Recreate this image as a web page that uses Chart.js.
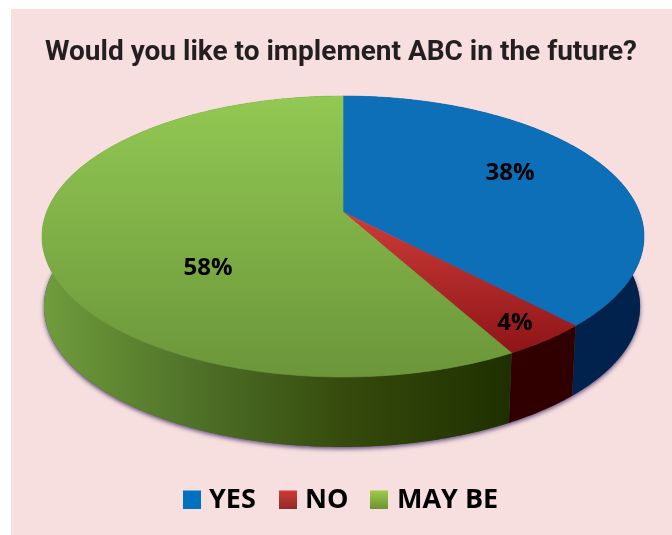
<!DOCTYPE html>
<html>
<head>
<meta charset="utf-8">
<script src="https://cdn.jsdelivr.net/npm/chart.js@4"></script>
<style>
  html, body { margin: 0; padding: 0; background: #fff; }
  #wrap { width: 672px; height: 535px; }
</style>
</head>
<body>
<div id="wrap"><canvas id="myChart" width="672" height="535"></canvas></div>
<script>
const categories = ['YES', 'NO', 'MAY BE'];
const percents = [38, 4, 58];
const chartTitle = 'Would you like to implement ABC in the future?';

// colours per slice: top face [from, to], wall [from, to], legend swatch [from, to]
const topColors = [['#0e6fb9', '#0e6fb9'], ['#cc3d38', '#8f1418'], ['#92c853', '#6b963a']];
const wallColors = [['#00224d', '#00224d'], ['#300000', '#300000'], ['#6f9c3c', '#1f3000']];
const swatchColors = [['#0070c0', '#0070c0'], ['#d03c38', '#8f2a2a'], ['#a0cd4b', '#6e9132']];

// perspective discs: apex position, half axes and foreshortening
const topDisc = { x: 343, y: 212, a: 296.4, b: 136.2, k: 0.1744 };
const baseDisc = { x: 342, y: 282, a: 293.5, b: 136.2, k: 0.1744 };

function project(disc, angle) {
  const u = Math.cos(angle), v = Math.sin(angle);
  const w = 1 - disc.k * v;
  return { x: disc.x + disc.a * u / w, y: disc.y + disc.b * v / w };
}

function rimAngles(start, end) {
  const out = [];
  const n = Math.max(2, Math.ceil((end - start) / 0.01));
  for (let i = 0; i <= n; i++) out.push(start + (end - start) * i / n);
  return out;
}

function vGrad(ctx, pair, y0, y1) {
  const g = ctx.createLinearGradient(0, y0, 0, y1);
  g.addColorStop(0, pair[0]);
  g.addColorStop(1, pair[1]);
  return g;
}

const panelPlugin = {
  id: 'panel',
  beforeDraw(chart) {
    const ctx = chart.ctx;
    ctx.save();
    ctx.fillStyle = '#f6dfde';
    ctx.fillRect(11, 9, chart.width - 11, chart.height - 9);
    ctx.restore();
  }
};

const pie3d = {
  id: 'pie3d',
  beforeDatasetDraw(chart) {
    const ctx = chart.ctx;
    const arcs = chart.getDatasetMeta(0).data;
    ctx.save();

    // soft shadow under the whole wall
    ctx.save();
    ctx.shadowColor = 'rgba(80,55,110,0.85)';
    ctx.shadowBlur = 4;
    ctx.shadowOffsetY = 2;
    ctx.fillStyle = '#555';
    ctx.beginPath();
    rimAngles(-0.3, Math.PI + 0.3).forEach((t, i) => {
      const p = project(baseDisc, t);
      if (i === 0) ctx.moveTo(p.x, p.y); else ctx.lineTo(p.x, p.y);
    });
    ctx.closePath();
    ctx.fill();
    ctx.restore();

    // side wall
    arcs.forEach((arc, i) => {
      const angles = rimAngles(arc.startAngle, arc.endAngle);
      const wall = ctx.createLinearGradient(45, 0, 510, 0);
      wall.addColorStop(0, wallColors[i][0]);
      wall.addColorStop(0.35, i === 2 ? '#4c6e26' : wallColors[i][0]);
      wall.addColorStop(0.65, i === 2 ? '#354a0c' : wallColors[i][1]);
      wall.addColorStop(1, wallColors[i][1]);
      ctx.fillStyle = wall;
      ctx.beginPath();
      angles.forEach((t, j) => {
        const p = project(topDisc, t);
        if (j === 0) ctx.moveTo(p.x, p.y); else ctx.lineTo(p.x, p.y);
      });
      angles.slice().reverse().forEach(t => {
        const p = project(baseDisc, t);
        ctx.lineTo(p.x, p.y);
      });
      ctx.closePath();
      ctx.fill();
    });

    // top face
    arcs.forEach((arc, i) => {
      const fill = i === 1
        ? vGrad(ctx, topColors[i], 212, 353)
        : vGrad(ctx, topColors[i], 96, 377);
      ctx.fillStyle = fill;
      ctx.strokeStyle = fill;
      ctx.lineWidth = 0.6;
      ctx.beginPath();
      ctx.moveTo(topDisc.x, topDisc.y);
      rimAngles(arc.startAngle, arc.endAngle).forEach(t => {
        const p = project(topDisc, t);
        ctx.lineTo(p.x, p.y);
      });
      ctx.closePath();
      ctx.fill();
      ctx.stroke();
    });
    ctx.restore();
    return false;
  },
  afterDraw(chart) {
    const ctx = chart.ctx;
    ctx.save();

    // percentage labels
    const labelAt = [[510, 173], [515, 323], [208, 268]];
    ctx.fillStyle = '#000';
    ctx.font = 'bold 24px "Open Sans"';
    ctx.textAlign = 'center';
    ctx.textBaseline = 'middle';
    percents.forEach((v, i) => ctx.fillText(v + '%', labelAt[i][0], labelAt[i][1]));

    // legend row
    const swatchX = [183, 279, 370];
    const textX = [209, 305, 397];
    ctx.font = 'bold 27px "Open Sans"';
    ctx.textAlign = 'left';
    categories.forEach((name, i) => {
      ctx.fillStyle = vGrad(ctx, swatchColors[i], 490, 509);
      ctx.fillRect(swatchX[i], 490.5, 18, 18.5);
      ctx.fillStyle = '#000';
      ctx.fillText(name, textX[i], 500);
    });
    ctx.restore();
  }
};

new Chart(document.getElementById('myChart'), {
  type: 'pie',
  data: {
    labels: categories,
    datasets: [{ data: percents, backgroundColor: swatchColors.map(c => c[0]) }]
  },
  options: {
    responsive: false,
    animation: false,
    layout: { padding: { left: 10, top: 36 } },
    plugins: {
      legend: { display: false },
      tooltip: { enabled: false },
      title: {
        display: true,
        text: chartTitle,
        color: '#231f20',
        font: { family: 'Roboto', size: 28, weight: 'bold' },
        padding: 0
      }
    }
  },
  plugins: [panelPlugin, pie3d]
});
</script>
</body>
</html>
